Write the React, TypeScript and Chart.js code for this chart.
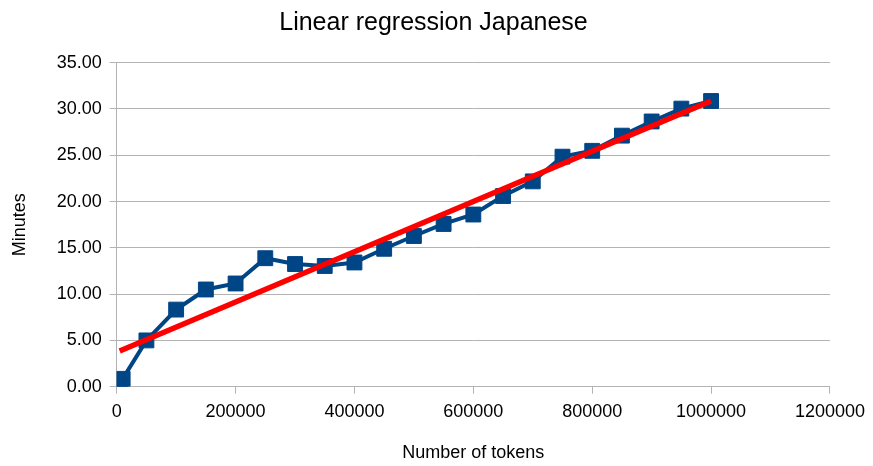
import React, { useEffect, useRef } from "react";
import { Chart, registerables } from "chart.js";

Chart.register(...registerables);

const tokens = [5000, 10000, 50000, 100000, 150000, 200000, 250000, 300000, 350000, 400000, 450000, 500000, 550000, 600000, 650000, 700000, 750000, 800000, 850000, 900000, 950000, 1000000];
const minutes = [0.7, 0.85, 5.0, 8.33, 10.5, 11.15, 13.88, 13.25, 13.04, 13.42, 14.9, 16.28, 17.58, 18.6, 20.6, 22.18, 24.85, 25.48, 27.12, 28.65, 30.04, 30.86];
const trendTokens = [5000, 1000000];
const trendMinutes = [3.86, 30.86];

const chartTitle = "Linear regression Japanese";
const xTitle = "Number of tokens";
const yTitle = "Minutes";

export default function App() {
  const ref = useRef<HTMLCanvasElement | null>(null);
  useEffect(() => {
    if (!ref.current) return;
    const font = "'Liberation Sans', Arial, sans-serif";
    const chart = new Chart(ref.current, {
      type: "scatter",
      data: {
        datasets: [
          {
            label: "Linear trend",
            data: trendTokens.map((x, i) => ({ x, y: trendMinutes[i] })),
            showLine: true,
            borderColor: "#ff0000",
            backgroundColor: "#ff0000",
            borderWidth: 5.5,
            pointRadius: 0,
            order: 0,
          },
          {
            label: "Minutes",
            data: tokens.map((x, i) => ({ x, y: minutes[i] })),
            showLine: true,
            borderColor: "#004586",
            backgroundColor: "#004586",
            borderWidth: 4,
            pointStyle: "rect",
            pointRadius: 10.5,
            pointBorderWidth: 1,
            pointBorderColor: "#004586",
            pointBackgroundColor: "#004586",
            order: 1,
          },
        ],
      },
      options: {
        responsive: false,
        animation: false,
        layout: { padding: { left: 34, right: 40, top: 0, bottom: 0 } },
        plugins: {
          legend: { display: false },
          tooltip: { enabled: false },
          title: {
            display: true,
            text: chartTitle,
            color: "#000",
            font: { family: font, size: 25, weight: "normal" },
            padding: { top: 8.5, bottom: 24.2 },
          },
        },
        scales: {
          x: {
            type: "linear",
            min: 0,
            max: 1200000,
            ticks: {
              stepSize: 200000,
              color: "#000",
              font: { family: font, size: 18 },
              padding: 8,
              maxRotation: 0,
              callback: (v: any) => String(v),
            },
            grid: {
              drawOnChartArea: false,
              drawTicks: true,
              tickLength: 7,
              color: "#b3b3b3",
            },
            border: { display: true, color: "#b3b3b3" },
            title: {
              display: true,
              text: xTitle,
              color: "#000",
              font: { family: font, size: 18 },
              padding: { top: 0, bottom: 2 },
            },
            afterFit: (s: any) => {
              s.height = 79.3;
            },
          },
          y: {
            type: "linear",
            min: 0,
            max: 35,
            ticks: {
              stepSize: 5,
              color: "#000",
              font: { family: font, size: 18 },
              padding: 8,
              callback: (v: any) => Number(v).toFixed(2),
            },
            grid: {
              color: "#b3b3b3",
              drawTicks: true,
              tickLength: 7,
            },
            border: { display: true, color: "#b3b3b3" },
            title: {
              display: true,
              text: yTitle,
              color: "#000",
              font: { family: font, size: 18 },
              padding: { top: -24.8, bottom: 0 },
            },
            afterFit: (s: any) => {
              s.width = 82.7;
            },
          },
        },
      },
    });
    return () => chart.destroy();
  }, []);
  return (
    <div style={{ position: "fixed", left: 0, top: 0, width: 873, height: 466, background: "#fff" }}>
      <canvas ref={ref} width={873} height={466} />
    </div>
  );
}
